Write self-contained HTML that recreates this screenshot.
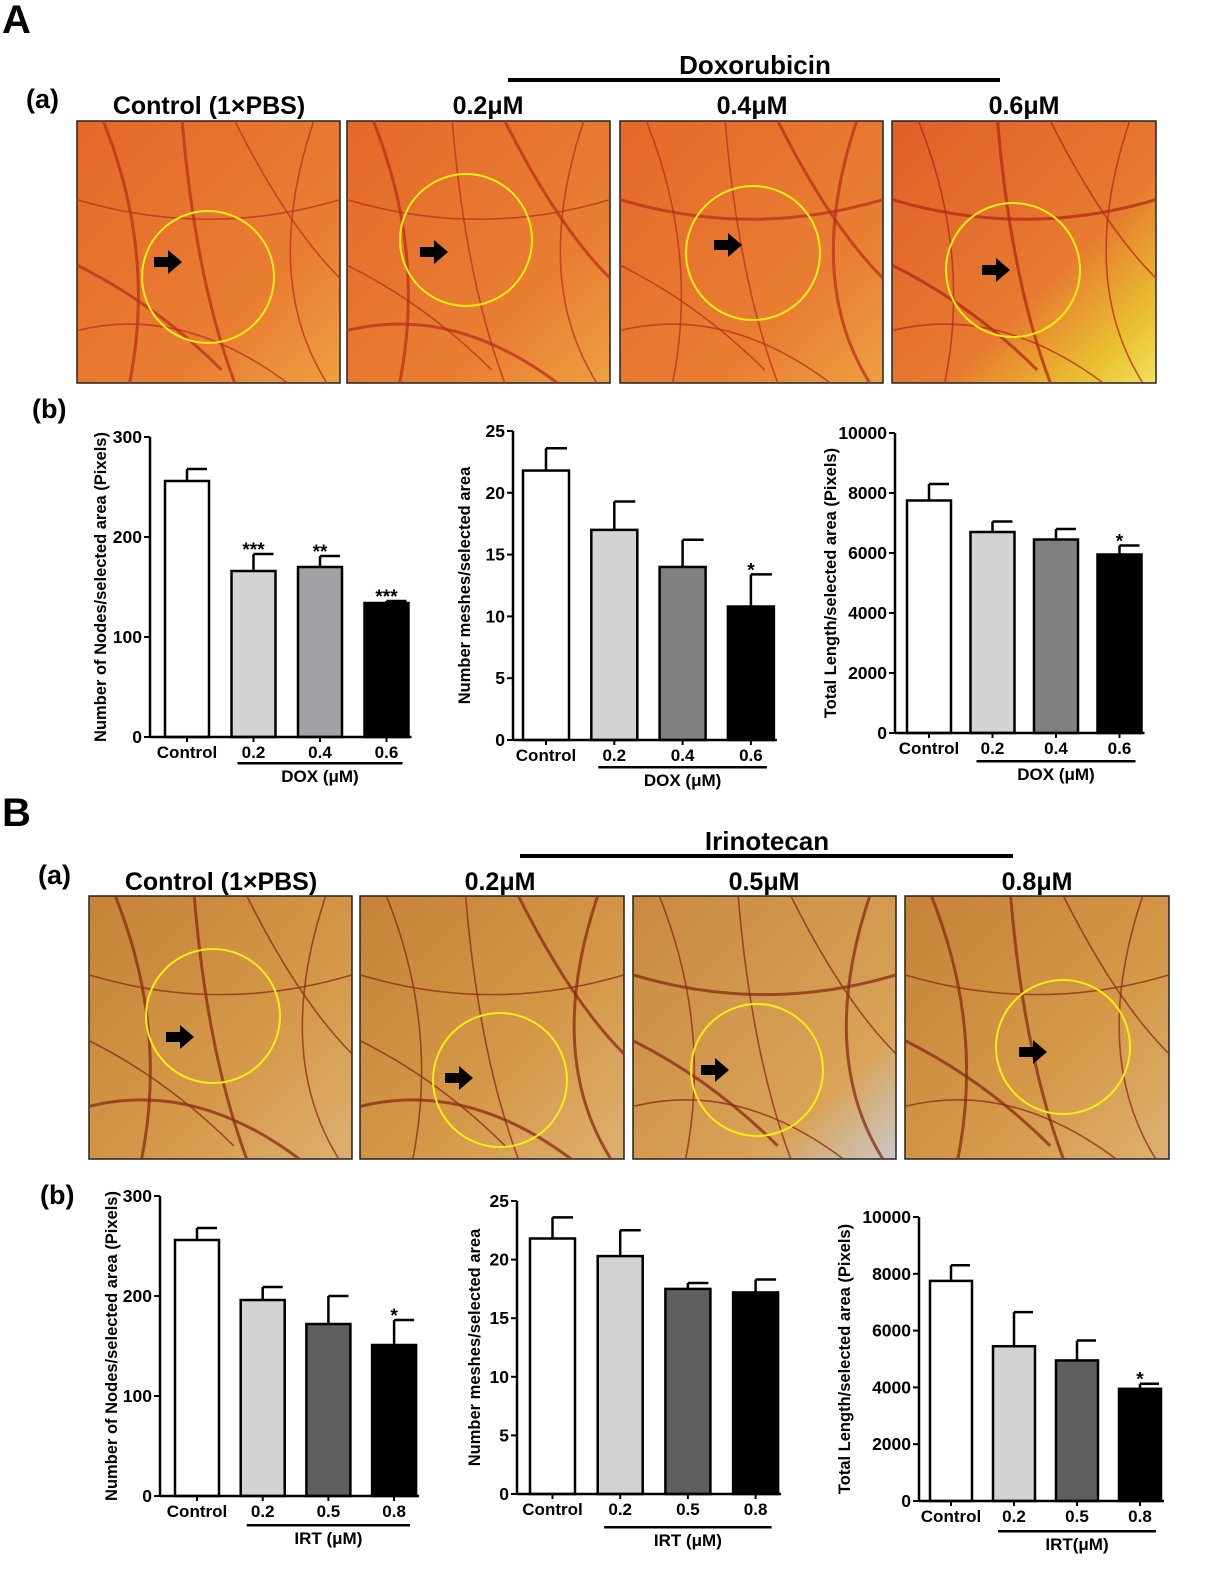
<!DOCTYPE html>
<html><head><meta charset="utf-8"><style>
body{margin:0;background:#fff}
svg{display:block;font-family:"Liberation Sans",Arial,sans-serif}
</style></head><body>
<svg id="fig" width="1226" height="1581" viewBox="0 0 1226 1581" xmlns="http://www.w3.org/2000/svg">
<defs>
<linearGradient id="gA" x1="0" y1="0" x2="1" y2="1"><stop offset="0" stop-color="#e4692a"/><stop offset="0.7" stop-color="#e97f33"/><stop offset="1" stop-color="#eda040"/></linearGradient>
<linearGradient id="gA4" x1="0" y1="0" x2="1" y2="1"><stop offset="0" stop-color="#e0602a"/><stop offset="0.6" stop-color="#e77a30"/><stop offset="0.85" stop-color="#e9c030"/><stop offset="1" stop-color="#f2e060"/></linearGradient>
<linearGradient id="gB" x1="0" y1="0" x2="1" y2="1"><stop offset="0" stop-color="#c58338"/><stop offset="0.6" stop-color="#d59848"/><stop offset="1" stop-color="#ddb070"/></linearGradient>
<linearGradient id="gB3" x1="0" y1="0" x2="1" y2="1"><stop offset="0" stop-color="#c88a40"/><stop offset="0.75" stop-color="#d9a358"/><stop offset="1" stop-color="#c8c8c8"/></linearGradient>
</defs>
<g id="heads">
<text x="2" y="33" font-size="40" font-weight="bold">A</text>
<text x="26" y="108" font-size="27" font-weight="bold">(a)</text>
<text x="32" y="418" font-size="27" font-weight="bold">(b)</text>
<text x="755" y="74" font-size="26" font-weight="bold" text-anchor="middle">Doxorubicin</text>
<rect x="508" y="78" width="492" height="4"/>
<text x="209" y="114" font-size="25" font-weight="bold" text-anchor="middle">Control (1×PBS)</text>
<text x="488" y="114" font-size="25" font-weight="bold" text-anchor="middle">0.2μM</text>
<text x="752" y="114" font-size="25" font-weight="bold" text-anchor="middle">0.4μM</text>
<text x="1024" y="114" font-size="25" font-weight="bold" text-anchor="middle">0.6μM</text>
<text x="2" y="826" font-size="40" font-weight="bold">B</text>
<text x="38" y="884" font-size="27" font-weight="bold">(a)</text>
<text x="40" y="1204" font-size="27" font-weight="bold">(b)</text>
<text x="767" y="850" font-size="26" font-weight="bold" text-anchor="middle">Irinotecan</text>
<rect x="520" y="854" width="493" height="4"/>
<text x="221" y="890" font-size="25" font-weight="bold" text-anchor="middle">Control (1×PBS)</text>
<text x="500" y="890" font-size="25" font-weight="bold" text-anchor="middle">0.2μM</text>
<text x="764" y="890" font-size="25" font-weight="bold" text-anchor="middle">0.5μM</text>
<text x="1037" y="890" font-size="25" font-weight="bold" text-anchor="middle">0.8μM</text>
</g>
<g id="photos"></g>
<g id="charts"></g>
</svg>
<script>
const NS="http://www.w3.org/2000/svg";
// ---- chart data ----
const categoriesA=["Control","0.2","0.4","0.6"];
const categoriesB=["Control","0.2","0.5","0.8"];
const a1Values=[256,166,170,134];
const a1Errors=[12,17,11,2];
const a1Stars=["","***","**","***"];
const a2Values=[21.8,17,14,10.8];
const a2Errors=[1.8,2.3,2.2,2.6];
const a2Stars=["","","","*"];
const a3Values=[7750,6700,6450,5950];
const a3Errors=[550,350,350,300];
const a3Stars=["","","","*"];
const b1Values=[256,196,172,151];
const b1Errors=[12,13,28,25];
const b1Stars=["","","","*"];
const b2Values=[21.8,20.3,17.5,17.2];
const b2Errors=[1.8,2.2,0.5,1.1];
const b2Stars=["","","",""];
const b3Values=[7750,5450,4950,3950];
const b3Errors=[550,1200,700,180];
const b3Stars=["","","","*"];
const ticksNodes=[0,100,200,300];
const ticksMeshes=[0,5,10,15,20,25];
const ticksLength=[0,2000,4000,6000,8000,10000];

function mk(tag,attrs,parent){const e=document.createElementNS(NS,tag);for(const k in attrs)e.setAttribute(k,attrs[k]);parent.appendChild(e);return e;}

function chart(c){
  const g=mk("g",{},document.getElementById("charts"));
  
  
  const max=c.ticks[c.ticks.length-1];
  const y=v=>c.y0-(v/max)*(c.y0-c.yTop);
  const bx=i=>c.x0+i*c.step;
  c.values.forEach((v,i)=>{
    const x=bx(i), yt=y(v), ye=y(v+c.errors[i]), cx=x+c.bw/2;
    const ln=mk("line",{x1:cx,x2:cx,y1:yt,y2:ye,stroke:"#000","stroke-width":2.5},g);
    
    
    const cap=mk("line",{x1:cx,x2:cx+c.bw/2-2,y1:ye,y2:ye,stroke:"#000","stroke-width":2.5},g);
    
    
    const r=mk("rect",{x:x,y:yt,width:c.bw,height:c.y0-yt,fill:c.colors[i],stroke:"#000","stroke-width":2.5},g);
    
    
    if(c.stars[i]){
      const s=mk("text",{x:cx,y:ye+2,"font-size":19,"font-weight":"bold","text-anchor":"middle"},g);
      
      
      s.textContent=c.stars[i];
    }
    const t=mk("text",{x:cx,y:c.y0+21,"font-size":17,"font-weight":"bold","text-anchor":"middle"},g);
    
    
    t.textContent=c.cats[i];
    const tk=mk("line",{x1:cx,x2:cx,y1:c.y0,y2:c.y0+5,stroke:"#000","stroke-width":2},g);
    
    
  });
  const ya=mk("line",{x1:c.ax,x2:c.ax,y1:c.yTop,y2:c.y0+1,stroke:"#000","stroke-width":2.5},g);
  
  
  const xa=mk("line",{x1:c.ax,x2:bx(3)+c.bw+3,y1:c.y0,y2:c.y0,stroke:"#000","stroke-width":2.5},g);
  
  
  c.ticks.forEach(v=>{
    const tk=mk("line",{x1:c.ax-6,x2:c.ax,y1:y(v),y2:y(v),stroke:"#000","stroke-width":2},g);
    
    
    const t=mk("text",{x:c.ax-8,y:y(v)+6,"font-size":17.5,"font-weight":"bold","text-anchor":"end"},g);
    
    
    t.textContent=v;
  });
  const yt=mk("text",{transform:`translate(${c.titleX},${(c.yTop+c.y0)/2}) rotate(-90)`,"font-size":16.5,"font-weight":"bold","text-anchor":"middle"},g);
  
  
  yt.textContent=c.ytitle;
  const gl=mk("rect",{x:bx(1)+c.bw/2-16,y:c.lineY-1,width:(bx(3)-bx(1))+32,height:2.5,fill:"#000"},g);
  
  
  const gt=mk("text",{x:bx(2)+c.bw/2,y:c.lineY+19,"font-size":17,"font-weight":"bold","text-anchor":"middle"},g);
  
  
  gt.textContent=c.group;
}
const colA1=["#fff","#d4d4d4","#a2a2a6","#000"], colA2=["#fff","#d4d4d4","#808080","#000"], colB=["#fff","#d3d3d3","#5f5f5f","#000"];
chart({name:"chart-a-nodes",values:a1Values,errors:a1Errors,stars:a1Stars,cats:categoriesA,ticks:ticksNodes,colors:colA1,ax:150,yTop:437,y0:737,x0:165,step:66.5,bw:44,titleX:106,lineY:763,group:"DOX (μM)",ytitle:"Number of Nodes/selected area (Pixels)"});
chart({name:"chart-a-meshes",values:a2Values,errors:a2Errors,stars:a2Stars,cats:categoriesA,ticks:ticksMeshes,colors:colA2,ax:513,yTop:431,y0:740,x0:523,step:68.3,bw:46,titleX:470,lineY:767,group:"DOX (μM)",ytitle:"Number meshes/selected area"});
chart({name:"chart-a-length",values:a3Values,errors:a3Errors,stars:a3Stars,cats:categoriesA,ticks:ticksLength,colors:colA2,ax:895,yTop:433,y0:733,x0:907,step:63.5,bw:44,titleX:836,lineY:761,group:"DOX (μM)",ytitle:"Total Length/selected area (Pixels)"});
chart({name:"chart-b-nodes",values:b1Values,errors:b1Errors,stars:b1Stars,cats:categoriesB,ticks:ticksNodes,colors:colB,ax:160,yTop:1196,y0:1496,x0:175,step:65.7,bw:44,titleX:117,lineY:1525,group:"IRT (μM)",ytitle:"Number of Nodes/selected area (Pixels)"});
chart({name:"chart-b-meshes",values:b2Values,errors:b2Errors,stars:b2Stars,cats:categoriesB,ticks:ticksMeshes,colors:colB,ax:517,yTop:1201,y0:1494,x0:530,step:67.7,bw:45,titleX:480,lineY:1527,group:"IRT (μM)",ytitle:"Number meshes/selected area"});
chart({name:"chart-b-length",values:b3Values,errors:b3Errors,stars:b3Stars,cats:categoriesB,ticks:ticksLength,colors:colB,ax:919,yTop:1217,y0:1501,x0:930,step:63,bw:42,titleX:850,lineY:1531,group:"IRT(μM)",ytitle:"Total Length/selected area (Pixels)"});

// ---- photos ----
const photos=[
 {x:77,y:121,w:263,h:262,fill:"url(#gA)",cx:208,cy:277,r:66,ax:168,ay:262,vc:"#b8301c"},
 {x:347,y:121,w:263,h:262,fill:"url(#gA)",cx:466,cy:240,r:66,ax:434,ay:252,vc:"#b8301c"},
 {x:620,y:121,w:263,h:262,fill:"url(#gA)",cx:753,cy:253,r:67,ax:728,ay:245,vc:"#b8301c"},
 {x:892,y:121,w:264,h:262,fill:"url(#gA4)",cx:1013,cy:270,r:67,ax:996,ay:270,vc:"#b02a18"},
 {x:89,y:896,w:263,h:263,fill:"url(#gB)",cx:213,cy:1016,r:67,ax:180,ay:1037,vc:"#8a2a14"},
 {x:360,y:896,w:264,h:263,fill:"url(#gB)",cx:500,cy:1080,r:67,ax:459,ay:1078,vc:"#8a2a14"},
 {x:633,y:896,w:263,h:263,fill:"url(#gB3)",cx:757,cy:1070,r:66,ax:715,ay:1070,vc:"#8a2a14"},
 {x:905,y:896,w:264,h:263,fill:"url(#gB)",cx:1063,cy:1047,r:67,ax:1033,ay:1052,vc:"#8a2a14"}
];
const vesselSeeds=[[0.1,0,0.3,0.5,0.2,1],[0.6,0,0.8,0.4,1,0.6],[0,0.3,0.5,0.45,1,0.3],[0.4,0,0.45,0.6,0.6,1],[0,0.8,0.4,0.7,0.8,1],[0.9,0,0.7,0.6,0.95,1],[0,0.55,0.3,0.7,0.55,0.95]];
const pg=document.getElementById("photos");
photos.forEach((p,i)=>{
  const g=mk("g",{},pg);
  
  
  mk("rect",{x:p.x,y:p.y,width:p.w,height:p.h,fill:p.fill,stroke:"#222","stroke-width":1.5},g);
  vesselSeeds.forEach((s,j)=>{
    const q=(j+i)%vesselSeeds.length, t=vesselSeeds[q];
    const d=`M${p.x+t[0]*p.w},${p.y+t[1]*p.h} Q${p.x+t[2]*p.w},${p.y+t[3]*p.h} ${p.x+t[4]*p.w},${p.y+t[5]*p.h}`;
    mk("path",{d:d,fill:"none",stroke:p.vc,"stroke-width":j%3==0?3:1.6,opacity:0.75},g);
  });
  const c=mk("circle",{cx:p.cx,cy:p.cy,r:p.r,fill:"none",stroke:"#f5ee10","stroke-width":2},g);
  
  
  const a=mk("path",{d:`M${p.ax-14},${p.ay-5} h14 v-7 l14,12 l-14,12 v-7 h-14 z`,fill:"#000"},g);
  
  
});
</script>
</body></html>
